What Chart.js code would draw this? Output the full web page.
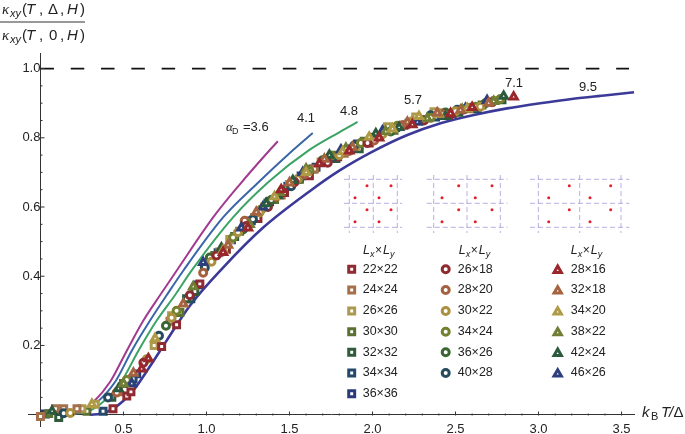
<!DOCTYPE html>
<html><head><meta charset="utf-8">
<style>html,body{margin:0;padding:0;background:#fff}canvas{display:block}</style>
<script src="https://cdn.jsdelivr.net/npm/chart.js@4/dist/chart.umd.min.js"></script>
</head><body><canvas id="c" width="685" height="434"></canvas>
<script>
// --- curves [kBT/Δ, ratio]
const curve36=[[0.15,0.002],[0.25,0.012],[0.316,0.035],[0.42,0.095],[0.52,0.185],[0.62,0.272],[0.72,0.345],[0.82,0.416],[1.04,0.57],[1.2,0.665],[1.38,0.764],[1.43,0.79]];
const curve41=[[0.18,0.002],[0.27,0.012],[0.34,0.035],[0.45,0.095],[0.55,0.185],[0.66,0.272],[0.76,0.345],[0.86,0.416],[1.10,0.57],[1.31,0.67],[1.52,0.764],[1.64,0.814]];
const curve48=[[0.2,0.002],[0.29,0.01],[0.36,0.03],[0.48,0.09],[0.59,0.185],[0.70,0.272],[0.81,0.345],[0.91,0.416],[1.16,0.57],[1.38,0.675],[1.62,0.765],[1.80,0.816],[1.91,0.846]];
const curve95=[[0.3,0],[0.36,0.003],[0.437,0.017],[0.557,0.069],[0.66,0.14],[0.76,0.214],[0.9,0.315],[1.10,0.425],[1.34,0.54],[1.62,0.645],[1.80,0.705],[2.0,0.76],[2.21,0.808],[2.41,0.842],[2.61,0.866],[2.81,0.885],[3.01,0.9],[3.21,0.913],[3.41,0.923],[3.575,0.9316]];
const unitLine=[[0,1],[3.545,1]];
// --- square series
const s22x22=[[0.437,0.017],[0.52,0.054],[0.545,0.066],[0.73,0.197],[0.82,0.26],[0.96,0.378],[1.12,0.478],[1.31,0.567],[1.47,0.642],[1.62,0.69],[1.79,0.745],[1.98,0.785],[2.19,0.836],[2.46,0.866]];
const s24x24=[[0,-0.005],[0.09,0.017],[0.14,0.017],[0.22,0.017],[0.47,0.066],[0.78,0.27],[1.08,0.47],[1.29,0.57],[1.45,0.635],[1.65,0.71],[1.83,0.755],[2.03,0.806],[2.2,0.838],[2.41,0.872]];
const s26x26=[[0.25,0.017],[0.33,0.03],[0.685,0.2],[0.79,0.286],[1.14,0.506],[1.35,0.6],[1.5,0.665],[1.69,0.73],[1.9,0.775],[2.09,0.832],[2.26,0.86],[2.37,0.875],[2.58,0.884],[2.74,0.908]];
const s30x30=[[0.05,0.003],[0.28,0.01],[0.5,0.09],[0.84,0.295],[1.05,0.46],[1.2,0.53],[1.41,0.622],[1.56,0.68],[1.77,0.75],[1.95,0.79],[2.13,0.822],[2.3,0.853],[2.49,0.872],[2.66,0.895]];
const s32x32=[[0.11,-0.008],[0.43,0.05],[0.88,0.335],[0.93,0.356],[1.17,0.515],[1.37,0.612],[1.47,0.65],[1.64,0.71],[1.78,0.74],[1.92,0.768],[2.1,0.822],[2.52,0.874],[2.78,0.91]];
const s34x34=[[0.377,0.01],[0.558,0.103],[0.906,0.335],[1.07,0.468],[1.27,0.56],[1.49,0.66],[1.66,0.715],[1.87,0.768],[2.0,0.8],[2.22,0.842],[2.38,0.86],[2.63,0.884]];
const s36x36=[[0.03,0.002],[0.58,0.118],[0.95,0.375],[1.15,0.505],[1.38,0.615],[1.57,0.69],[1.72,0.735],[1.91,0.782],[2.14,0.83],[2.29,0.85],[2.48,0.87]];
// --- circle series
const c26x18=[[0.62,0.15],[0.9,0.345],[1.06,0.46],[1.24,0.545],[1.37,0.6],[1.53,0.672],[1.73,0.728],[1.97,0.785],[2.31,0.85],[2.55,0.882],[2.72,0.903]];
const c28x20=[[0.46,0.064],[0.98,0.41],[1.23,0.56],[1.42,0.63],[1.59,0.695],[1.86,0.762],[2.01,0.792],[2.17,0.835],[2.42,0.868],[2.59,0.887]];
const c30x22=[[0.18,0.005],[0.64,0.16],[0.79,0.28],[1.03,0.442],[1.19,0.527],[1.32,0.585],[1.55,0.68],[1.8,0.75],[2.06,0.81],[2.24,0.848],[2.5,0.877],[2.65,0.89]];
const c34x24=[[0.52,0.1],[0.82,0.3],[1.16,0.512],[1.33,0.593],[1.62,0.705],[1.75,0.748],[1.93,0.785],[2.15,0.835],[2.35,0.858],[2.62,0.89],[2.77,0.912]];
const c36x26=[[0.756,0.257],[1.02,0.454],[1.22,0.535],[1.39,0.62],[1.56,0.68],[1.7,0.735],[1.84,0.764],[2.11,0.818],[2.44,0.873],[2.68,0.9]];
const c40x28=[[0.14,0.004],[0.407,0.05],[0.714,0.228],[0.99,0.425],[1.28,0.565],[1.51,0.66],[1.76,0.744],[1.89,0.778],[1.99,0.8],[2.35,0.865],[2.51,0.881]];
// --- triangle series
const t28x16=[[0.61,0.132],[0.65,0.162],[1.1,0.469],[1.25,0.54],[1.45,0.65],[1.68,0.725],[1.86,0.762],[2.04,0.8],[2.24,0.838],[2.47,0.87],[2.6,0.888],[2.85,0.918]];
const t32x18=[[0.56,0.12],[0.86,0.32],[1.13,0.49],[1.3,0.585],[1.5,0.67],[1.71,0.738],[1.88,0.772],[2.21,0.845],[2.39,0.872],[2.53,0.88],[2.7,0.9]];
const t34x20=[[0.31,0.03],[0.69,0.22],[1.1,0.475],[1.41,0.63],[1.6,0.7],[1.82,0.76],[1.98,0.802],[2.12,0.826],[2.28,0.862],[2.4,0.868],[2.57,0.885]];
const t38x22=[[0.5,0.09],[0.92,0.37],[1.26,0.55],[1.44,0.642],[1.6,0.71],[1.84,0.77],[2.08,0.818],[2.33,0.855],[2.54,0.882],[2.73,0.905]];
const t42x24=[[0.07,0.01],[0.47,0.075],[1.09,0.482],[1.36,0.61],[1.43,0.633],[1.52,0.677],[1.74,0.75],[2.02,0.812],[2.16,0.83],[2.44,0.862],[2.79,0.92]];
const t46x26=[[0.55,0.09],[0.98,0.44],[1.21,0.54],[1.34,0.6],[1.58,0.7],[1.81,0.765],[2.06,0.82],[2.27,0.845],[2.56,0.885],[2.69,0.908]];

const squareNames=['22×22','24×24','26×26','30×30','32×32','34×34','36×36'];
const circleNames=['26×18','28×20','30×22','34×24','36×26','40×28'];
const triangleNames=['28×16','32×18','34×20','38×22','42×24','46×26'];
const squareColors=['#8f2a30','#a5704c','#aa994f','#5b7033','#2f5a3c','#25496c','#2b3b7a'];
const circleColors=['#8f2a30','#a5603f','#ab9040','#74802f','#3c6534','#274b5c'];
const triangleColors=['#99272c','#a5643f','#b09a45','#6f7d35','#2c5a3c','#2c3f7c'];
const squareData=[s22x22,s24x24,s26x26,s30x30,s32x32,s34x34,s36x36];
const circleData=[c26x18,c28x20,c30x22,c34x24,c36x26,c40x28];
const triangleData=[t28x16,t32x18,t34x20,t38x22,t42x24,t46x26];

const F='"Liberation Sans",Arial,sans-serif';
const toXY=a=>a.map(p=>({x:p[0],y:p[1]}));
const lineDs=(label,d,color,w,extra)=>Object.assign({label,data:toXY(d),showLine:true,borderColor:color,borderWidth:w,pointRadius:0,cubicInterpolationMode:'monotone',fill:false,order:50,clip:false},extra||{});
const markerStyle={rect:{radius:4.2,borderWidth:3},circle:{radius:3.5,borderWidth:3},triangle:{radius:4.2,borderWidth:3}};
const markDs=(names,data,colors,style)=>names.map((n,i)=>({label:n,data:toXY(data[i]),showLine:false,pointStyle:style,pointRadius:markerStyle[style].radius,pointBorderWidth:markerStyle[style].borderWidth,pointBorderColor:colors[i],pointBackgroundColor:'#fff',borderColor:colors[i],backgroundColor:'#fff',order:10,clip:false}));

function runs(ctx,list,y){ctx.textBaseline='alphabetic';ctx.textAlign='left';
  for(const r of list){ctx.font=r[0];ctx.fillStyle=r[4]||'#222';ctx.fillText(r[1],r[2],y+(r[3]||0));}}

const annotations={id:'annotations',
 afterDraw(chart){
  const ctx=chart.ctx,xs=chart.scales.x,ys=chart.scales.y;ctx.save();
  ctx.strokeStyle='#333';ctx.lineWidth=1;
  const bx=Math.round(xs.getPixelForValue(0))+.5, by=Math.round(ys.getPixelForValue(0))+.5;
  ctx.beginPath();ctx.moveTo(bx,chart.chartArea.bottom);ctx.lineTo(bx,427);ctx.stroke();
  xs.ticks.forEach(t=>{if(Math.abs(t.value)<1e-6)return;const p=xs.getPixelForValue(t.value);const maj=Math.abs(t.value*2-Math.round(t.value*2))<1e-6;
    ctx.beginPath();ctx.moveTo(p,by);ctx.lineTo(p,by-(maj?4:2));ctx.stroke();});
  ys.ticks.forEach(t=>{if(t.value<1e-6)return;const p=ys.getPixelForValue(t.value);const maj=Math.abs(t.value*5-Math.round(t.value*5))<1e-6;
    ctx.beginPath();ctx.moveTo(bx,p);ctx.lineTo(bx+(maj?4:2),p);ctx.stroke();});
  // y title
  const it15='italic 15px '+F,re15='15px '+F,sub='italic 11px '+F,kap='italic 15px "Liberation Serif",serif';
  runs(ctx,[[kap,'κ',2],[sub,'xy',10,3],[re15,'(',22],[it15,'T',26],[re15,',',39],[re15,'Δ',48],[re15,',',60],[it15,'H',67],[re15,')',80]],14);
  ctx.strokeStyle='#333';ctx.lineWidth=1;ctx.beginPath();ctx.moveTo(0,22);ctx.lineTo(85,22);ctx.stroke();
  runs(ctx,[[kap,'κ',2],[sub,'xy',10,3],[re15,'(',22],[it15,'T',26],[re15,',',39],[re15,'0',49],[re15,',',60],[it15,'H',67],[re15,')',80]],40);
  // x title
  runs(ctx,[[it15,'k',642],['11px '+F,'B',651,3],[it15,'T',661],[it15,'/',669],[re15,'Δ',673.5]],417);
  // curve labels
  const l13='13px '+F;
  runs(ctx,[['italic 13px "Liberation Serif",serif','α',226],['9px '+F,'D',232,3],[l13,'=3.6',243]],131);
  runs(ctx,[[l13,'4.1',297]],122);runs(ctx,[[l13,'4.8',340]],115);runs(ctx,[[l13,'5.7',404]],104);runs(ctx,[[l13,'7.1',505]],87);runs(ctx,[[l13,'9.5',579]],91);
  // insets
  const rows=[179.3,203.3,227.3];
  const insets=[{v:[349.3,373.3,397.3],l:344,r:402,up:[367,391],lo:[355,379]},{v:[433.7,467,500.3],l:426.7,r:507.7,up:[458.7,492],lo:[442,475.3]},{v:[538.3,579.7,621],l:530,r:629.3,up:[569.3,610.7],lo:[548.7,590]}];
  for(const ins of insets){
    ctx.strokeStyle='#aaa6e0';ctx.lineWidth=.9;
    ctx.setLineDash([5,3]);
    for(const y of rows){ctx.beginPath();ctx.moveTo(ins.l,y);ctx.lineTo(ins.r,y);ctx.stroke();}
    for(const x of ins.v){ctx.beginPath();ctx.moveTo(x,175);ctx.lineTo(x,233);ctx.stroke();}
    ctx.setLineDash([]);
    ctx.fillStyle='#e0202a';
    [[185.7,ins.up],[197.7,ins.lo],[209.7,ins.up],[221.7,ins.lo]].forEach(([y,xsx])=>xsx.forEach(x=>{ctx.beginPath();ctx.arc(x,y,1.5,0,7);ctx.fill();}));
  }
  // legend
  const cols=[{mx:351.7,tx:362.7,hx:363,names:squareNames,colors:squareColors,style:'rect'},{mx:445.7,tx:457.7,hx:458.7,names:circleNames,colors:circleColors,style:'circle'},{mx:557.7,tx:570.7,hx:570.7,names:triangleNames,colors:triangleColors,style:'triangle'}];
  const rowY=[269.3,290,311,331.7,352.3,373,393.7];
  for(const c of cols){
    const it='italic 12.5px '+F,s='italic 9px '+F;
    runs(ctx,[[it,'L',c.hx],[s,'x',c.hx+7,3],['12px '+F,'×',c.hx+12],[it,'L',c.hx+20],[s,'y',c.hx+27,3]],254);
    c.names.forEach((n,i)=>{const st=markerStyle[c.style];
      ctx.fillStyle='#fff';ctx.strokeStyle=c.colors[i];ctx.lineWidth=st.borderWidth;
      Chart.helpers.drawPoint(ctx,{pointStyle:c.style,rotation:0,radius:st.radius,borderWidth:st.borderWidth},c.mx,rowY[i]+(c.style==='triangle'?1:0));
      ctx.fillStyle='#222';ctx.font='12.5px '+F;ctx.textAlign='left';ctx.textBaseline='middle';ctx.fillText(n,c.tx,rowY[i]);});
  }
  ctx.restore();
 }};

new Chart(document.getElementById('c'),{
 type:'scatter',
 data:{datasets:[
  lineDs('1.0',unitLine,'#111',1.6,{borderDash:[13.5,16.8],cubicInterpolationMode:'default',tension:0}),
  lineDs('3.6',curve36,'#a23a90',2),
  lineDs('4.1',curve41,'#3a66a8',2),
  lineDs('4.8',curve48,'#3ba364',2),
  lineDs('9.5',curve95,'#3c3a98',2.6),
  ...markDs(triangleNames,triangleData,triangleColors,'triangle'),
  ...markDs(circleNames,circleData,circleColors,'circle'),
  ...markDs(squareNames,squareData,squareColors,'rect')
 ]},
 options:{responsive:false,animation:false,devicePixelRatio:1,
  layout:{autoPadding:false,padding:{left:28,right:51,top:53,bottom:7}},
  plugins:{legend:{display:false},tooltip:{enabled:false},title:{display:false}},
  scales:{
   x:{type:'linear',min:-0.075,max:3.575,position:{y:0},
      border:{display:true,color:'#333',width:1},
      grid:{display:true,drawOnChartArea:false,drawTicks:false},
      ticks:{stepSize:0.1,includeBounds:false,autoSkip:false,maxRotation:0,padding:7,color:'#222',font:{family:F,size:13},
        callback:v=>{const k=Math.round(v*10);return (k>0&&k%5===0)?(k/10).toFixed(1):'';}}},
   y:{type:'linear',min:-0.0188,max:1.045,position:{x:0},
      border:{display:true,color:'#333',width:1},
      grid:{display:true,drawOnChartArea:false,drawTicks:false},
      ticks:{stepSize:0.05,includeBounds:false,autoSkip:false,padding:5,color:'#222',font:{family:F,size:13},
        callback:v=>{const k=Math.round(v*20);return (k>0&&k%4===0)?(k/20).toFixed(1):'';}}}
  }},
 plugins:[annotations]
});
</script></body></html>
